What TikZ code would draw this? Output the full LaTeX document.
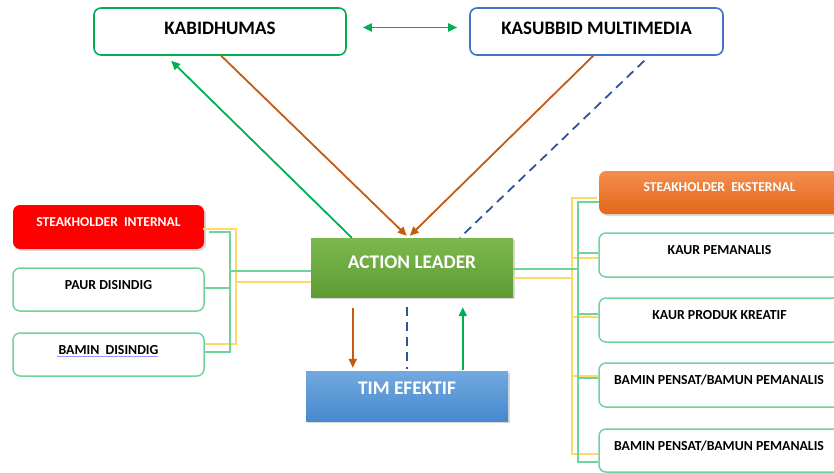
\documentclass[tikz,border=0pt]{standalone}
\usepackage{fontspec}
\setmainfont{Carlito}
\usetikzlibrary{arrows.meta,calc,shadows}
\definecolor{kgreen}{HTML}{00B050}
\definecolor{lgreen}{HTML}{6FD39B}
\definecolor{kblue}{HTML}{4472C4}
\definecolor{korange}{HTML}{C55A11}
\definecolor{kdash}{HTML}{2F5597}
\definecolor{kyellow}{HTML}{FFD966}
\definecolor{algtop}{HTML}{7DB84E}
\definecolor{algbot}{HTML}{5E9C33}
\definecolor{timtop}{HTML}{72A9DF}
\definecolor{timbot}{HTML}{4689CF}
\definecolor{ortop}{HTML}{F58D4F}
\definecolor{orbot}{HTML}{E2671A}
\begin{document}
\begin{tikzpicture}[x=1pt,y=-1pt,
  box/.style={rounded corners=7pt, inner sep=0pt, align=center, font=\bfseries\fontsize{13.8}{15}\selectfont, text height=8.9pt},
  topbox/.style={box, line width=1.6pt, fill=white, minimum width=252pt, minimum height=47pt, font=\bfseries\fontsize{19}{21}\selectfont, text height=12.3pt, text depth=6pt},
  subbox/.style={box, draw=lgreen, line width=1.5pt, fill=white},
  shadowbox/.style={drop shadow={opacity=0.3, shadow xshift=2pt, shadow yshift=-2pt}},
  bigbox/.style={inner sep=0pt, text=white, font=\bfseries\fontsize{19.3}{21}\selectfont, text height=12.4pt, shadowbox},
  arr/.style={line width=1.8pt, -{Triangle[length=9pt,width=8pt]}},
  dline/.style={kdash, line width=1.8pt, dash pattern=on 9pt off 6pt},
  gline/.style={draw=lgreen, line width=1.6pt},
  yline/.style={draw=kyellow, line width=1.6pt},
]
\useasboundingbox (0,0) rectangle (834,473);
% top boxes
\node[topbox, draw=kgreen] (kab) at (220,31.5) {KABIDHUMAS};
\node[topbox, draw=kblue, minimum width=253pt] (kas) at (596.5,31.5) {KASUBBID MULTIMEDIA};
% left boxes
\node[box, fill=red, text=white, minimum width=191pt, minimum height=44pt, text depth=10pt, shadowbox, font=\bfseries\fontsize{13.6}{15}\selectfont] (si) at (108.5,227) {STEAKHOLDER\ \ INTERNAL};
\node[subbox, minimum width=191pt, minimum height=43pt, text depth=9pt] (paur) at (108.5,289.5) {PAUR DISINDIG};
\node[subbox, minimum width=191pt, minimum height=43pt, text depth=9pt] (bamin) at (108.5,354.5) {BAMIN\ \ DISINDIG};
\draw[color=blue!40!white, line width=1.3pt] ($(bamin.west)+(45,2)$) -- ($(bamin.west)+(146,2)$);
% center boxes
\node[bigbox, top color=algtop, bottom color=algbot, minimum width=202pt, minimum height=59pt, text depth=11pt] (al) at (412,267.5) {ACTION LEADER};
\node[bigbox, top color=timtop, bottom color=timbot, minimum width=202pt, minimum height=50pt, text depth=16pt] (tim) at (407,396) {TIM EFEKTIF};
% right boxes
\node[box, top color=ortop, bottom color=orbot, text=white, minimum width=251pt, minimum height=43pt, text depth=11pt, shadowbox, font=\bfseries\fontsize{13.6}{15}\selectfont] (se) at (724.5,192.5) {\hspace*{-10pt}STEAKHOLDER\ \ EKSTERNAL};
\node[subbox, minimum width=251pt, minimum height=44pt, text depth=10pt] (kp) at (724.5,255) {\hspace*{-10pt}KAUR PEMANALIS};
\node[subbox, minimum width=251pt, minimum height=44pt, text depth=10pt] (kpk) at (724.5,320) {\hspace*{-10pt}KAUR PRODUK KREATIF};
\node[subbox, minimum width=251pt, minimum height=44pt, text depth=10pt] (bp1) at (724.5,385) {\hspace*{-11pt}BAMIN PENSAT/BAMUN PEMANALIS};
\node[subbox, minimum width=251pt, minimum height=43pt, text depth=9pt] (bp2) at (724.5,450.5) {\hspace*{-11pt}BAMIN PENSAT/BAMUN PEMANALIS};
% top arrows
\draw[kgreen, line width=1.8pt, {Triangle[length=9pt,width=8pt]}-{Triangle[length=9pt,width=8pt]}] ($(kab.east)+(16,-4)$) -- ($(kas.west)+(-12,-4)$);
\draw[arr, kgreen] ($(al.north west)+(41,0)$) -- ($(kab.south west)+(78,5)$);
\draw[arr, korange] ($(kab.south west)+(128,0)$) -- ($(al.north west)+(96,-2)$);
\draw[arr, korange] ($(kas.south west)+(124,0)$) -- ($(al.north west)+(99,-2)$);
\draw[dline] ($(kas.south west)+(175,5)$) -- ($(al.north west)+(149,0)$);
% bottom arrows
\draw[arr, korange] ($(al.south west)+(42,11)$) -- ($(tim.north west)+(47,-3)$);
\draw[dline] ($(al.south west)+(96,10)$) -- ($(tim.north west)+(101,-2)$);
\draw[arr, kgreen] ($(tim.north west)+(157,-1)$) -- ($(al.south west)+(152,10)$);
% left connectors
\draw[yline] ($(si.east)+(-1,2)$) -| ($(bamin.east)+(31,-10.5)$) -- ($(bamin.east)+(0,-10.5)$);
\draw[yline] ($(al.west)+(-76,14.5)$) -- ($(al.west)+(0,14.5)$);
\draw[gline] ($(si.east)+(5,5)$) -| ($(bamin.east)+(25,-2.5)$) -- ($(bamin.east)+(0,-2.5)$);
\draw[gline] ($(paur.east)+(0,-1.5)$) -- ($(paur.east)+(25,-1.5)$);
\draw[gline] ($(al.west)+(-82,3.5)$) -- ($(al.west)+(0,3.5)$);
% right connectors
\draw[yline] ($(se.west)+(-2,5.5)$) -| ($(bp2.west)+(-26,3.5)$) -- ($(bp2.west)+(0,3.5)$);
\draw[yline] ($(kp.west)+(-26,3)$) -- ($(kp.west)+(0,3)$);
\draw[yline] ($(kpk.west)+(-26,-3)$) -- ($(kpk.west)+(0,-3)$);
\draw[yline] ($(bp1.west)+(-26,-9)$) -- ($(bp1.west)+(0,-9)$);
\draw[yline] ($(al.east)+(0,10.5)$) -- ($(al.east)+(60,10.5)$);
\draw[gline] ($(se.west)+(0,9.5)$) -| ($(bp2.west)+(-20,11.5)$) -- ($(bp2.west)+(0,11.5)$);
\draw[gline] ($(kp.west)+(-20,-2)$) -- ($(kp.west)+(0,-2)$);
\draw[gline] ($(kpk.west)+(-20,-6)$) -- ($(kpk.west)+(0,-6)$);
\draw[gline] ($(bp1.west)+(-20,-7)$) -- ($(bp1.west)+(0,-7)$);
\draw[gline] ($(al.east)+(0,1.5)$) -- ($(al.east)+(66,1.5)$);
\end{tikzpicture}
\end{document}
